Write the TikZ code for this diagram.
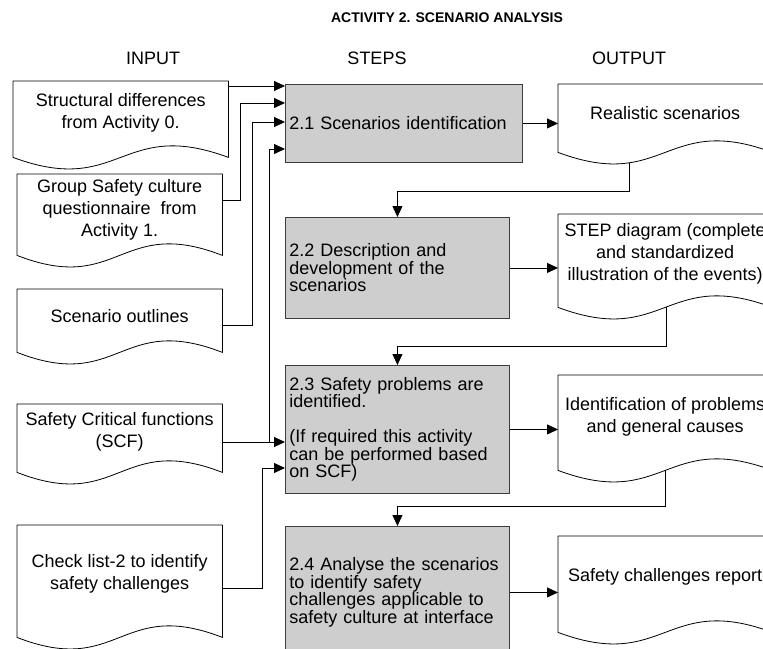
\documentclass[tikz,border=0pt]{standalone}
\usepackage{fontspec}
\setmainfont{Liberation Sans}
\usetikzlibrary{arrows.meta,calc}
\pgfdeclarelayer{back}
\pgfsetlayers{back,main}
\definecolor{stepgray}{RGB}{206,206,206}
\definecolor{edgegray}{RGB}{60,60,60}

% outline of a document symbol: straight top and sides, wavy bottom
\newcommand{\docoutline}[1]{%
  \draw[docline] (#1.south west) -- (#1.north west) -- (#1.north east) -- (#1.south east)
    .. controls ($(#1.south)+(0,-40)$) and ($(#1.south)+(0,40)$) .. (#1.south west) -- cycle;}

\begin{document}
\begin{tikzpicture}[x=1pt,y=-1pt,
  docbox/.style={draw=none, inner sep=0pt, anchor=north west},
  docline/.style={draw=black, fill=white, line width=0.8pt, line join=round},
  doctext/.style={align=center, inner sep=0pt, font=\fontsize{18}{22}\selectfont},
  stepbox/.style={draw=edgegray, fill=stepgray, line width=0.9pt, anchor=north west,
    inner xsep=4pt, inner ysep=0pt, align=left, font=\fontsize{18}{17.5}\selectfont},
  head/.style={font=\fontsize{18}{20}\selectfont, inner sep=0pt},
  titletext/.style={font=\fontsize{14}{16}\selectfont\bfseries, inner sep=0pt},
  arr/.style={draw=black, line width=0.8pt, -{Triangle[length=11pt,width=10pt]}},
]
\clip (0,0) rectangle (763,648);

% headings
\node[titletext] (title) at (447,18) {ACTIVITY 2. SCENARIO ANALYSIS};
\node[head] (hin) at (153,58) {INPUT};
\node[head] (hsteps) at (377,58) {STEPS};
\node[head] (hout) at (629,58) {OUTPUT};

% steps
\node[stepbox, text width=229pt, minimum height=78pt] (s1) at (285,84) {2.1 Scenarios identification};
\node[stepbox, text width=216pt, minimum height=101pt] (s2) at (285,217) {2.2 Description and\\development of the\\scenarios};
\node[stepbox, text width=216pt, minimum height=128pt] (s3) at (285,365) {2.3 Safety problems are\\identified.\\[17.5pt](If required this activity\\can be performed based\\on SCF)};
\node[stepbox, text width=216pt, minimum height=132pt] (s4) at (285,526) {2.4 Analyse the scenarios\\to identify safety\\challenges applicable to\\safety culture at interface};

% input documents
\node[docbox, minimum width=215pt, minimum height=76pt] (in1) at (13,81) {};
\node[docbox, minimum width=205pt, minimum height=81pt] (in2) at (17,174) {};
\node[docbox, minimum width=205pt, minimum height=63pt] (in3) at (17,289) {};
\node[docbox, minimum width=205pt, minimum height=68pt] (in4) at (17,404) {};
\node[docbox, minimum width=205pt, minimum height=112pt] (in5) at (17,525) {};

% output documents
\node[docbox, minimum width=214pt, minimum height=68pt] (out1) at (558,84) {};
\node[docbox, minimum width=214pt, minimum height=93pt] (out2) at (558,214) {};
\node[docbox, minimum width=214pt, minimum height=95pt] (out3) at (558,375) {};
\node[docbox, minimum width=214pt, minimum height=96pt] (out4) at (558,536) {};

% arrow entry points on the step boxes
\coordinate (t11) at ($(s1.north west)+(0,2)$);
\coordinate (t12) at ($(s1.north west)+(0,19)$);
\coordinate (t13) at ($(s1.north west)+(0,38)$);
\coordinate (t14) at ($(s1.north west)+(0,65)$);
\coordinate (t31) at ($(s3.north west)+(0,77)$);
\coordinate (t32) at ($(s3.north west)+(0,103)$);

\begin{pgfonlayer}{back}
  % inputs into the steps
  \draw[arr] (in1.east |- t11) -- (t11);
  \draw[arr] ($(in2.north east)+(0,26)$) -- ++(18,0) |- (t12);
  \draw[arr] ($(in3.north east)+(0,36)$) -- ++(30,0) |- (t13);
  \draw[arr] ($(in4.north east)+(0,38)$) -- (t31);
  \draw[arr] ($(in4.north east)+(47,38)$) |- (t14);
  \draw[arr] ($(in5.north east)+(0,63)$) -- ++(40,0) |- (t32);
  % steps into outputs
  \draw[arr] (s1.east) -- (s1.east -| out1.west);
  \draw[arr] (s2.east) -- (s2.east -| out2.west);
  \draw[arr] (s3.east) -- (s3.east -| out3.west);
  \draw[arr] (s4.east) -- (s4.east -| out4.west);
  % outputs feeding the next step
  \draw[arr] ($(out1.south west)+(71,0)$) -- ++(0,39) -| (s2.north);
  \draw[arr] ($(out2.south west)+(108,0)$) -- ++(0,39) -| (s3.north);
  \draw[arr] ($(out3.south west)+(107,0)$) -- ++(0,36) -| (s4.north);
\end{pgfonlayer}

% document outlines
\docoutline{in1}\docoutline{in2}\docoutline{in3}\docoutline{in4}\docoutline{in5}
\docoutline{out1}\docoutline{out2}\docoutline{out3}\docoutline{out4}

% document texts
\node[doctext] (in1t) at ($(in1.center)+(0,-6)$) {Structural differences\\from Activity 0.};
\node[doctext] (in2t) at ($(in2.center)+(0,-5)$) {Group Safety culture\\questionnaire\ \ from\\Activity 1.};
\node[doctext] (in3t) at ($(in3.center)+(0,-5)$) {Scenario outlines};
\node[doctext] (in4t) at ($(in4.center)+(0,-6)$) {Safety Critical functions\\(SCF)};
\node[doctext] (in5t) at ($(in5.center)+(0,-7)$) {Check list-2 to identify\\safety challenges};
\node[doctext] (out1t) at ($(out1.center)+(0,-5)$) {Realistic scenarios};
\node[doctext] (out2t) at ($(out2.center)+(0,-7)$) {STEP diagram (complete\\and standardized\\illustration of the events)};
\node[doctext] (out3t) at ($(out3.center)+(0,-6)$) {Identification of problems\\and general causes};
\node[doctext] (out4t) at ($(out4.center)+(0,-7)$) {Safety challenges report};
\end{tikzpicture}
\end{document}
